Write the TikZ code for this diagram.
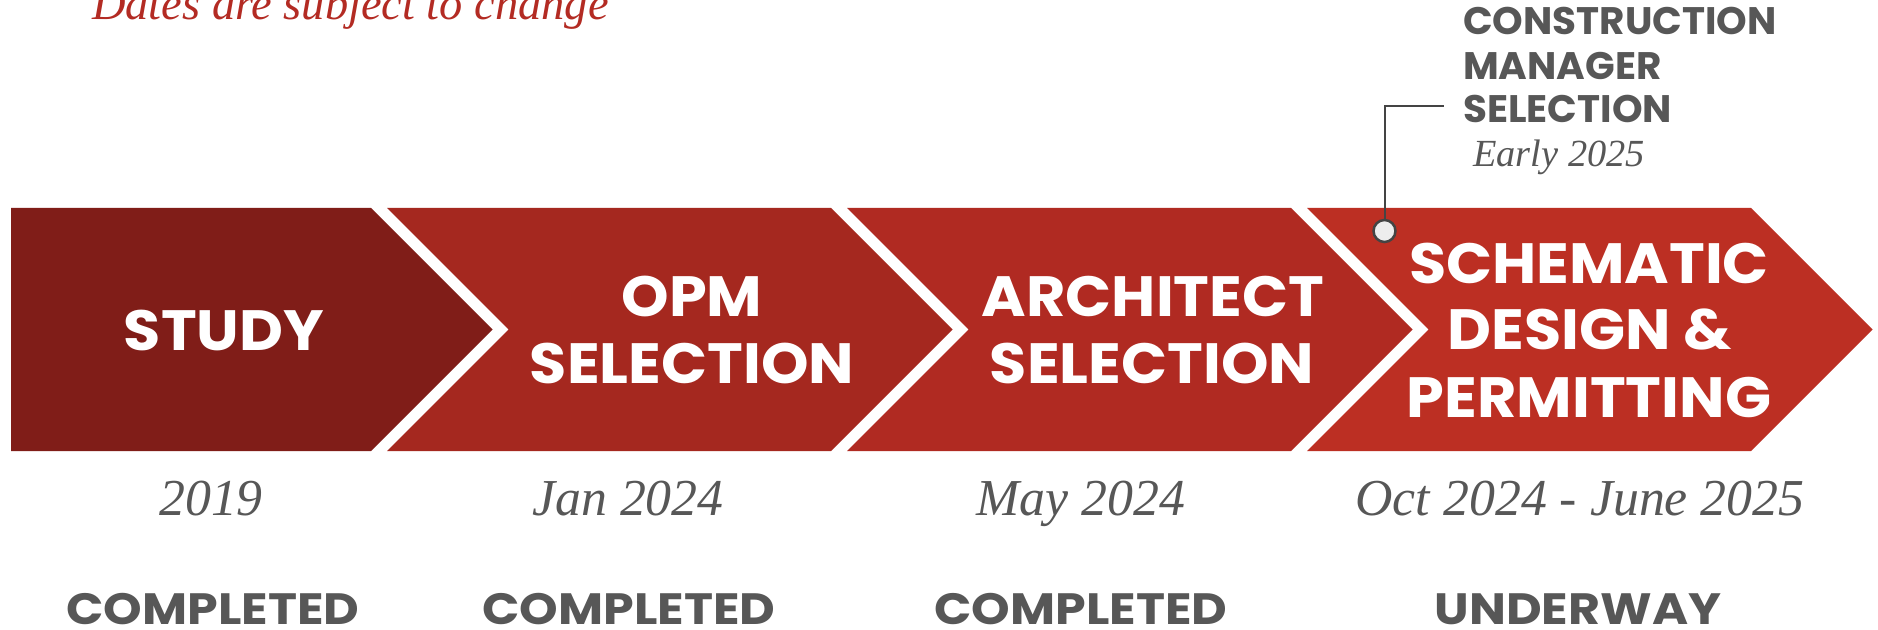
\documentclass[tikz,border=0pt]{standalone}
\usepackage{fontspec}
\setmainfont{Liberation Serif}
\newfontfamily\headfont{Poppins}[FakeStretch=1.065]
\newfontfamily\statusfont{Poppins}[FakeStretch=1.12]
\newfontfamily\cmfont{Poppins}[FakeStretch=1.015]
\definecolor{cStudy}{HTML}{801D18}
\definecolor{cOpm}{HTML}{A5281F}
\definecolor{cArch}{HTML}{B02A22}
\definecolor{cSchem}{HTML}{BC2F23}
\definecolor{greytxt}{HTML}{575757}
\definecolor{notered}{HTML}{B32B23}
\definecolor{dotline}{HTML}{444444}
\definecolor{dotfill}{HTML}{EDEDED}
\tikzset{
  head/.style={text=white, font=\headfont\bfseries\fontsize{57}{67}\selectfont, anchor=base, inner sep=0pt},
  datetxt/.style={text=greytxt, font=\itshape\fontsize{52}{60}\selectfont, anchor=base, inner sep=0pt},
  statustxt/.style={text=greytxt, font=\statusfont\bfseries\fontsize{44}{50}\selectfont, anchor=base, inner sep=0pt},
  cmtxt/.style={text=greytxt, font=\cmfont\bfseries\fontsize{38.5}{45}\selectfont, anchor=base west, inner sep=0pt},
  cmdate/.style={text=greytxt, font=\itshape\fontsize{38.5}{45}\selectfont, anchor=base west, inner sep=0pt},
  notetxt/.style={text=notered, font=\itshape\fontsize{46.6}{55}\selectfont, anchor=base west, inner sep=0pt},
  calldot/.style={circle, draw=dotline, fill=dotfill, line width=2.5bp, minimum size=22bp, inner sep=0pt},
  callline/.style={draw=dotline, line width=2bp},
}
\begin{document}
\begin{tikzpicture}[x=1bp,y=-1bp]
\useasboundingbox[fill=white] (0,0) rectangle (1878,630);
% chevrons
\fill[cStudy] (11,208) -- (371,208) -- (492.5,329.5) -- (371,451) -- (11,451) -- cycle;
\foreach \xo/\col in {387/cOpm, 847/cArch, 1307/cSchem}{
  \fill[\col] (\xo,208) -- (\xo+444,208) -- (\xo+565.5,329.5) -- (\xo+444,451)
     -- (\xo,451) -- (\xo+121.5,329.5) -- cycle;
}
% note
\node[notetxt] (note) at (92,20) {Dates are subject to change};
% heads
\node[head] (study) at (224,350) {STUDY};
\node[head] (opm1) at (692,316) {OPM};
\node[head] (opm2) at (692,383) {SELECTION};
\node[head] (arc1) at (1153,316) {ARCHITECT};
\node[head] (arc2) at (1152,383) {SELECTION};
\node[head] (sd1) at (1589,283) {SCHEMATIC};
\node[head] (sd2) at (1590,349) {DESIGN \&};
\node[head] (sd3) at (1589,417) {PERMITTING};
% dates
\node[datetxt] (d1) at (211,515) {2019};
\node[datetxt] (d2) at (628,515) {Jan 2024};
\node[datetxt] (d3) at (1081,515) {May 2024};
\node[datetxt] (d4) at (1580,515) {Oct 2024 - June 2025};
% status
\node[statustxt] (s1) at (213,624) {COMPLETED};
\node[statustxt] (s2) at (629,624) {COMPLETED};
\node[statustxt] (s3) at (1081,624) {COMPLETED};
\node[statustxt] (s4) at (1578,624) {UNDERWAY};
% callout
\node[cmtxt] (cm1) at (1463,35) {CONSTRUCTION};
\node[cmtxt] (cm2) at (1463,80) {MANAGER};
\node[cmtxt] (cm3) at (1463,123) {SELECTION};
\node[cmdate] (cmd) at (1473,167) {Early 2025};
\node[calldot] (dot) at (1384.5,231) {};
\coordinate (elbow) at (1444,106);
\draw[callline] (dot.north) |- (elbow);
\end{tikzpicture}
\end{document}
